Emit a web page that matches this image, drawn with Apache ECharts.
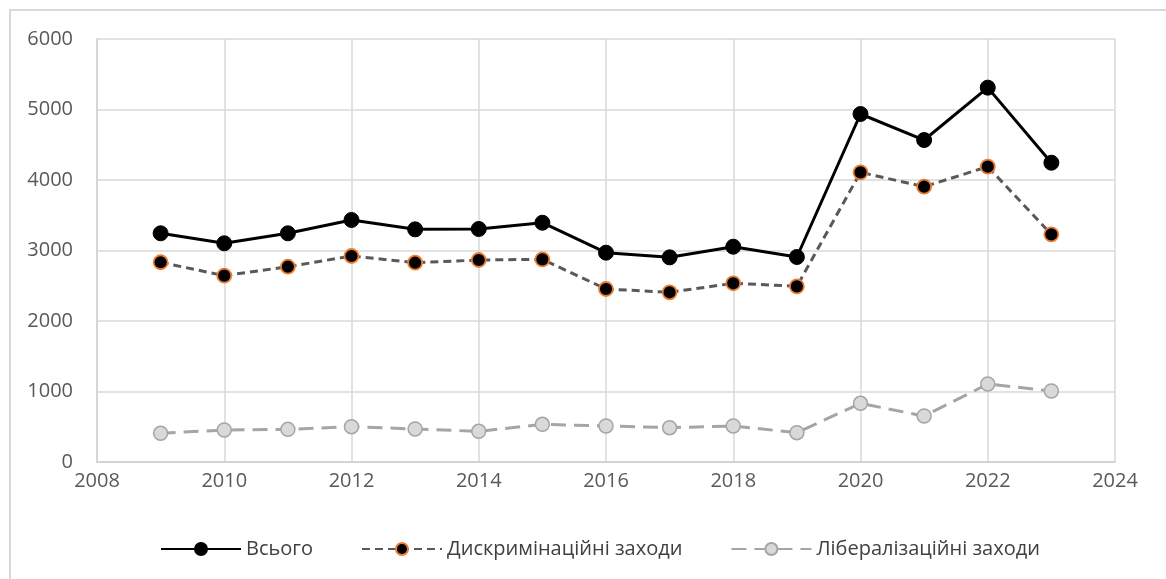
<!DOCTYPE html>
<html>
<head>
<meta charset="utf-8">
<script src="https://cdn.jsdelivr.net/npm/echarts@6/dist/echarts.min.js"></script>
<style>
  html, body { margin: 0; padding: 0; background: #fff; }
  #frame { position: absolute; left: 9px; top: 9px; width: 1160px; height: 580px; border: 2px solid #d9d9d9; box-sizing: border-box; }
  #chart { position: absolute; left: 0; top: 0; width: 1166px; height: 579px; }
</style>
</head>
<body>
<div id="frame"></div>
<div id="chart"></div>
<script>
// Years and measure counts
const years = [2009, 2010, 2011, 2012, 2013, 2014, 2015, 2016, 2017, 2018, 2019, 2020, 2021, 2022, 2023];
const total = [3244, 3102, 3244, 3433, 3300, 3305, 3394, 2969, 2903, 3054, 2908, 4936, 4567, 5310, 4245];
const discriminatory = [2833, 2643, 2770, 2922, 2827, 2865, 2875, 2454, 2407, 2535, 2492, 4109, 3905, 4189, 3229];
const liberalizing = [407, 454, 463, 501, 468, 435, 534, 511, 487, 511, 416, 832, 652, 1106, 1007];
const seriesNames = ['Всього', 'Дискримінаційні заходи', 'Лібералізаційні заходи'];

const pairs = arr => years.map((y, i) => [y, arr[i]]);
const font = '"Open Sans", "Noto Sans", sans-serif';
const plain = v => String(v);

const chart = echarts.init(document.getElementById('chart'), null, { renderer: 'canvas' });
chart.setOption({
  animation: false,
  backgroundColor: 'transparent',
  grid: { left: 97, right: 51, top: 39, bottom: 117, containLabel: false },
  xAxis: {
    type: 'value', min: 2008, max: 2024, interval: 2,
    axisLine: { show: true, lineStyle: { color: '#d0d0d0', width: 1.5 } },
    axisTick: { show: false },
    splitLine: { show: true, lineStyle: { color: '#d9d9d9', width: 1.5 } },
    axisLabel: { color: '#595959', fontSize: 20, fontFamily: font, margin: 9, formatter: plain }
  },
  yAxis: {
    type: 'value', min: 0, max: 6000, interval: 1000,
    axisLine: { show: true, lineStyle: { color: '#d0d0d0', width: 1.5 } },
    axisTick: { show: false },
    splitLine: { show: true, lineStyle: { color: '#d9d9d9', width: 1.5 } },
    axisLabel: { color: '#595959', fontSize: 20, fontFamily: font, margin: 24, formatter: plain }
  },
  legend: {
    bottom: 15, left: 155,
    itemWidth: 80, itemHeight: 15, itemGap: 48,
    textStyle: { color: '#404040', fontSize: 20, fontFamily: font },
    data: seriesNames
  },
  series: [
    {
      name: seriesNames[0], type: 'line', data: pairs(total),
      symbol: 'circle', symbolSize: 15,
      lineStyle: { color: '#000', width: 3 },
      itemStyle: { color: '#000', borderColor: '#000', borderWidth: 1 },
      z: 4
    },
    {
      name: seriesNames[1], type: 'line', data: pairs(discriminatory),
      symbol: 'circle', symbolSize: 14,
      lineStyle: { color: '#595959', width: 3, type: [8, 5] },
      itemStyle: { color: '#000', borderColor: '#ed7d31', borderWidth: 1.8 },
      z: 3
    },
    {
      name: seriesNames[2], type: 'line', data: pairs(liberalizing),
      symbol: 'circle', symbolSize: 14,
      lineStyle: { color: '#a5a5a5', width: 3, type: [15, 8] },
      itemStyle: { color: '#d9d9d9', borderColor: '#a5a5a5', borderWidth: 1.5 },
      z: 2
    }
  ]
});
</script>
</body>
</html>
